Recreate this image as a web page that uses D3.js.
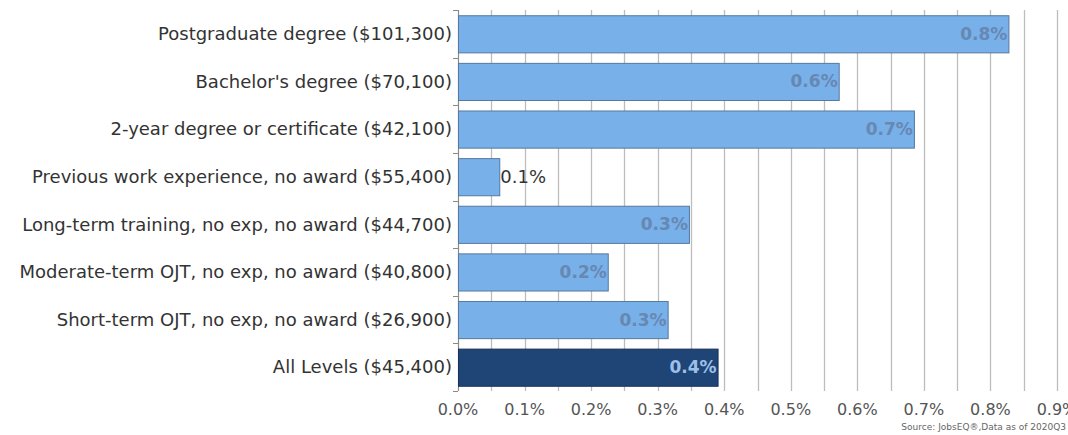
<!DOCTYPE html>
<html>
<head>
<meta charset="utf-8">
<script src="https://cdn.jsdelivr.net/npm/d3@7"></script>
<style>
  body { margin: 0; background: #fff; }
  svg { display: block; font-family: "DejaVu Sans", sans-serif; }
</style>
</head>
<body>
<svg width="1068" height="435"></svg>
<script>
// education levels (top to bottom) and their share values, in percent
var categories = [
    "Postgraduate degree ($101,300)",
    "Bachelor's degree ($70,100)",
    "2-year degree or certificate ($42,100)",
    "Previous work experience, no award ($55,400)",
    "Long-term training, no exp, no award ($44,700)",
    "Moderate-term OJT, no exp, no award ($40,800)",
    "Short-term OJT, no exp, no award ($26,900)",
    "All Levels ($45,400)"
];
var values = [0.827, 0.572, 0.685, 0.062, 0.347, 0.225, 0.315, 0.39];
var valueLabels = ["0.8%", "0.6%", "0.7%", "0.1%", "0.3%", "0.2%", "0.3%", "0.4%"];
var tickValues = [0, 0.1, 0.2, 0.3, 0.4, 0.5, 0.6, 0.7, 0.8, 0.9];
var gridValues = d3.range(0, 0.901, 0.05);
var sourceText = "Source: JobsEQ\u00ae,Data as of 2020Q3";

var update = function() {
    var svg = d3.select("svg"),
        margin = {top: 10, left: 458},
        width = 599,
        height = 381;

    var x = d3.scaleLinear().domain([0, 0.9]).range([0, width]);
    var y = d3.scaleBand().domain(categories).range([0, height]).paddingInner(0.22).paddingOuter(0.11);

    var g = svg.append("g")
        .attr("transform", "translate(" + margin.left + "," + margin.top + ")");

    // vertical grid
    g.selectAll(".grid")
        .data(gridValues)
        .enter().append("line")
        .attr("x1", function(d) { return Math.round(x(d)) + 0.5; })
        .attr("x2", function(d) { return Math.round(x(d)) + 0.5; })
        .attr("y1", 0)
        .attr("y2", height)
        .attr("stroke", "#bdbdbd")
        .attr("stroke-width", 1.3);

    // y axis line + ticks at band edges
    g.append("line")
        .attr("x1", 0.5).attr("x2", 0.5)
        .attr("y1", 0).attr("y2", height)
        .attr("stroke", "#8a8a8a");
    var edges = d3.range(categories.length + 1).map(function(i) { return i * height / categories.length; });
    g.selectAll(".ytick")
        .data(edges)
        .enter().append("line")
        .attr("x1", -5).attr("x2", 0)
        .attr("y1", function(d) { return Math.round(d) + 0.5; })
        .attr("y2", function(d) { return Math.round(d) + 0.5; })
        .attr("stroke", "#8a8a8a");

    // category labels
    g.selectAll(".cat")
        .data(categories)
        .enter().append("text")
        .attr("x", -6)
        .attr("y", function(d) { return y(d) + y.bandwidth() / 2; })
        .attr("dy", "0.35em")
        .attr("text-anchor", "end")
        .attr("fill", "#333")
        .style("font-size", "18px")
        .text(function(d) { return d; });

    // bars
    var data = categories.map(function(c, i) { return {cat: c, value: values[i], label: valueLabels[i], last: i === categories.length - 1}; });
    g.selectAll(".bar")
        .data(data)
        .enter().append("rect")
        .attr("x", 0.5)
        .attr("y", function(d) { return y(d.cat) + 0.5; })
        .attr("width", function(d) { return x(d.value); })
        .attr("height", y.bandwidth())
        .attr("fill", function(d) { return d.last ? "#1f4577" : "#78b0ea"; })
        .attr("stroke", function(d) { return d.last ? "#163258" : "#56799f"; });

    // value labels
    g.selectAll(".val")
        .data(data)
        .enter().append("text")
        .attr("x", function(d) { return d.value < 0.1 ? x(d.value) + 1 : x(d.value) - 1; })
        .attr("y", function(d) { return y(d.cat) + y.bandwidth() / 2; })
        .attr("dy", "0.35em")
        .attr("text-anchor", function(d) { return d.value < 0.1 ? "start" : "end"; })
        .attr("fill", function(d) { return d.value < 0.1 ? "#333" : (d.last ? "#9dbfe8" : "#6688b2"); })
        .style("font-size", function(d) { return d.value < 0.1 ? "18px" : "17px"; })
        .style("font-weight", function(d) { return d.value < 0.1 ? "normal" : "bold"; })
        .text(function(d) { return d.label; });

    // x axis labels
    g.selectAll(".xlab")
        .data(tickValues)
        .enter().append("text")
        .attr("x", function(d) { return x(d); })
        .attr("y", height + 24)
        .attr("text-anchor", "middle")
        .attr("fill", "#555")
        .style("font-size", "16px")
        .text(function(d) { return d3.format(".1f")(d) + "%"; });

    svg.append("text")
        .attr("x", 1066)
        .attr("y", 430)
        .attr("text-anchor", "end")
        .attr("fill", "#666")
        .style("font-size", "9px")
        .text(sourceText);
};

update();
</script>
</body>
</html>
